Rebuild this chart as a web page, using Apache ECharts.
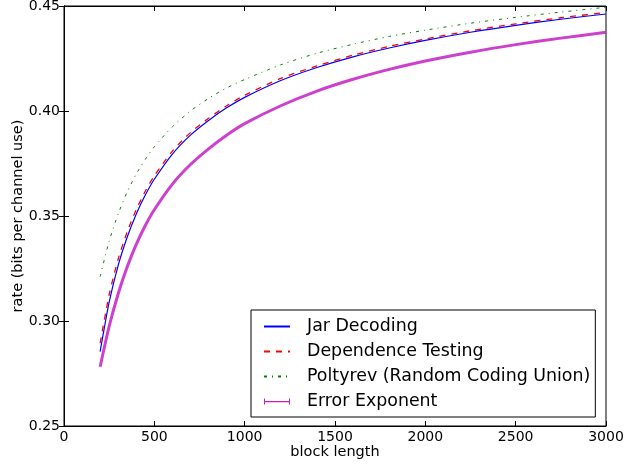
<!DOCTYPE html>
<html>
<head>
<meta charset="utf-8">
<script src="https://cdn.jsdelivr.net/npm/echarts@6/dist/echarts.min.js"></script>
<style>
	html, body { margin: 0; padding: 0; background: #fff; }
	#chart { width: 624px; height: 465px; }
</style>
</head>
<body>
<div id="chart"></div>
<script>
const blockLength = [200, 250, 300, 350, 400, 450, 500, 600, 700, 800, 900, 1000, 1200, 1400, 1600, 1800, 2000, 2250, 2500, 2750, 3000];
const jarDecoding = [0.2854, 0.309, 0.3265, 0.340, 0.351, 0.360, 0.3675, 0.3795, 0.3885, 0.3955, 0.4015, 0.4065, 0.4145, 0.4207, 0.4258, 0.4300, 0.4336, 0.4375, 0.4408, 0.4437, 0.4462];
const dependenceTesting = [0.2894, 0.3125, 0.3295, 0.3425, 0.353, 0.3618, 0.3691, 0.3809, 0.3897, 0.3965, 0.4025, 0.4075, 0.4155, 0.4215, 0.4266, 0.4308, 0.4343, 0.4382, 0.4415, 0.4444, 0.4469];
const poltyrev = [0.3211, 0.338, 0.351, 0.3615, 0.370, 0.377, 0.383, 0.3925, 0.400, 0.406, 0.411, 0.415, 0.422, 0.4275, 0.4318, 0.4355, 0.4385, 0.4418, 0.4446, 0.4471, 0.4494];
const errorExponent = [0.2782, 0.2975, 0.313, 0.3258, 0.3365, 0.3455, 0.353, 0.3652, 0.3745, 0.382, 0.3885, 0.394, 0.4025, 0.4095, 0.4151, 0.4198, 0.4238, 0.428, 0.4316, 0.4347, 0.4375];
const xTicks = [0, 3000, 500];
const yTicks = [0.25, 0.45, 0.05];

const font = "DejaVu Sans";
const pairs = (ys) => blockLength.map((n, i) => [n, ys[i]]);

const chart = echarts.init(document.getElementById("chart"));

const tickAxis = {
	axisLine: { show: true, lineStyle: { color: "#000", width: 1 } },
	axisTick: { show: true, inside: true, length: 5, lineStyle: { color: "#000" } },
	splitLine: { show: false },
};

// hide the circle marker ECharts adds to line legend icons
const noMarker = { opacity: 0 };

chart.setOption({
	animation: false,
	textStyle: { fontFamily: font },
	grid: {
		left: 64, right: 18, top: 6, bottom: 39,
		outerBoundsMode: "none", containLabel: false,
		show: true, borderColor: "#000", borderWidth: 1, backgroundColor: "transparent",
	},
	legend: {
		left: 251, top: 310,
		orient: "vertical",
		padding: [8, 5, 7, 12],
		itemWidth: 26, itemHeight: 12, itemGap: 8,
		borderColor: "#000", borderWidth: 1, borderRadius: 0,
		backgroundColor: "#fff",
		textStyle: { fontFamily: font, fontSize: 17.4, color: "#000", padding: [0, 0, 0, 12] },
		data: [
			{ name: "Jar Decoding", itemStyle: noMarker },
			{ name: "Dependence Testing", itemStyle: noMarker },
			{ name: "Poltyrev (Random Coding Union)", itemStyle: noMarker },
			{
				name: "Error Exponent",
				icon: "path://M0,2.5h26v1.2h-26z M0,0h1v6h-1z M25,0h1v6h-1z",
			},
		],
	},
	xAxis: [
		{
			...tickAxis,
			type: "value", min: xTicks[0], max: xTicks[1], interval: xTicks[2],
			name: "block length", nameLocation: "middle", nameGap: 19, nameMoveOverlap: false,
			nameTextStyle: { fontFamily: font, fontSize: 14.5, color: "#000" },
			axisLabel: { fontFamily: font, fontSize: 14, color: "#000", margin: 4, formatter: (v) => String(v) },
		},
		{
			...tickAxis,
			type: "value", position: "top", min: xTicks[0], max: xTicks[1], interval: xTicks[2],
			axisLabel: { show: false },
		},
	],
	yAxis: [
		{
			...tickAxis,
			type: "value", min: yTicks[0], max: yTicks[1], interval: yTicks[2],
			name: "rate (bits per channel use)", nameLocation: "middle", nameGap: 38, nameMoveOverlap: false,
			nameTextStyle: { fontFamily: font, fontSize: 14.5, color: "#000" },
			axisLabel: { fontFamily: font, fontSize: 14, color: "#000", margin: 4, formatter: (v) => v.toFixed(2) },
		},
		{
			...tickAxis,
			type: "value", position: "right", min: yTicks[0], max: yTicks[1], interval: yTicks[2],
			axisLabel: { show: false },
		},
	],
	series: [
		{
			name: "Error Exponent", type: "line", data: pairs(errorExponent),
			symbol: "none", smooth: 0.25, z: 2,
			lineStyle: { color: "#c41ec4", width: 3, opacity: 0.85 },
			itemStyle: { color: "#c41ec4" },
		},
		{
			name: "Poltyrev (Random Coding Union)", type: "line", data: pairs(poltyrev),
			symbol: "none", smooth: 0.25, z: 3,
			lineStyle: { color: "#008000", width: 1, type: [3, 5, 1, 5] },
			itemStyle: { color: "#008000" },
		},
		{
			name: "Dependence Testing", type: "line", data: pairs(dependenceTesting),
			symbol: "none", smooth: 0.25, z: 4,
			lineStyle: { color: "#ff0000", width: 1.3, type: [6, 6] },
			itemStyle: { color: "#ff0000" },
		},
		{
			name: "Jar Decoding", type: "line", data: pairs(jarDecoding),
			symbol: "none", smooth: 0.25, z: 5,
			lineStyle: { color: "#0000ff", width: 1.2 },
			itemStyle: { color: "#0000ff" },
		},
	],
});
</script>
</body>
</html>
